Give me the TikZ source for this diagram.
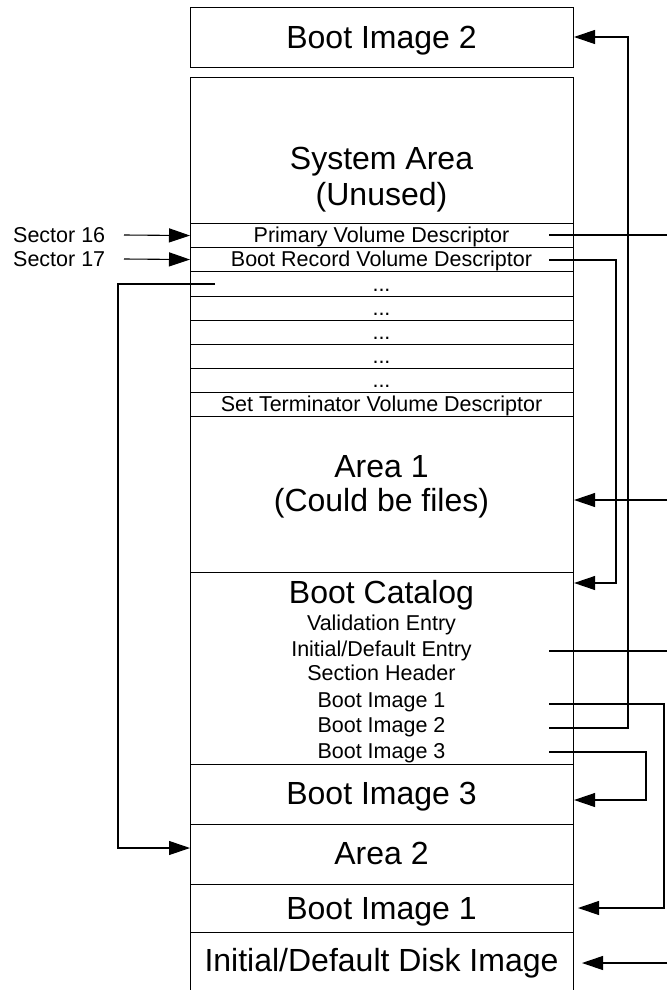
\documentclass[tikz,border=0pt]{standalone}
\usepackage{fontspec}
\setmainfont{Liberation Sans}
\usetikzlibrary{arrows.meta}
\begin{document}
\begin{tikzpicture}[x=1pt,y=-1pt,
  box/.style={draw=black, line width=1.1pt, rectangle, inner sep=0pt, minimum width=383pt, anchor=north west},
  big/.style={font=\fontsize{32}{35}\selectfont, text height=23pt, text depth=0pt, inner sep=0pt},
  small/.style={font=\fontsize{21.5}{24}\selectfont, text height=15.4pt, text depth=0pt, inner sep=0pt},
  wire/.style={line width=1.1pt, draw=black},
  arr/.style={wire, -{Triangle[length=21pt,width=14pt]}}]
\useasboundingbox (0,0) rectangle (667,990);
% boxes
\node[box, minimum height=60pt]  (bi2)   at (190,7)   {};
\node[box, minimum height=146pt] (sys)   at (190,77)  {};
\node[box, minimum height=24pt]  (pvd)   at (190,223) {};
\node[box, minimum height=24pt]  (brvd)  at (190,247) {};
\node[box, minimum height=25pt]  (d1)    at (190,271) {};
\node[box, minimum height=24pt]  (d2)    at (190,296) {};
\node[box, minimum height=24pt]  (d3)    at (190,320) {};
\node[box, minimum height=24pt]  (d4)    at (190,344) {};
\node[box, minimum height=24pt]  (d5)    at (190,368) {};
\node[box, minimum height=24pt]  (stvd)  at (190,392) {};
\node[box, minimum height=156pt] (area1) at (190,416) {};
\node[box, minimum height=192pt] (cat)   at (190,572) {};
\node[box, minimum height=60pt]  (bi3)   at (190,764) {};
\node[box, minimum height=60pt]  (area2) at (190,824) {};
\node[box, minimum height=48pt]  (bi1)   at (190,884) {};
\node[box, minimum height=80pt]  (disk)  at (190,932) {};
% texts
\node[big]   (tbi2)   at (381.5,37)  {Boot Image 2};
\node[big]   (tsys1)  at (381.5,158) {System Area};
\node[big]   (tsys2)  at (381.5,194) {(Unused)};
\node[small] (tpvd)   at (381.5,235) {Primary Volume Descriptor};
\node[small] (tbrvd)  at (381.5,259) {Boot Record Volume Descriptor};
\node[small] (td1)    at (381.5,283.5) {...};
\node[small] (td2)    at (381.5,308) {...};
\node[small] (td3)    at (381.5,332) {...};
\node[small] (td4)    at (381.5,356) {...};
\node[small] (td5)    at (381.5,380) {...};
\node[small] (tstvd)  at (381.5,404) {Set Terminator Volume Descriptor};
\node[big]   (ta11)   at (381.5,466) {Area 1};
\node[big]   (ta12)   at (381.5,500) {(Could be files)};
\node[big]   (tcat)   at (381.5,592) {Boot Catalog};
\node[small] (tval)   at (381.5,623) {Validation Entry};
\node[small] (tide)   at (381.5,649) {Initial/Default Entry};
\node[small] (tsec)   at (381.5,673) {Section Header};
\node[small] (tcb1)   at (381.5,700) {Boot Image 1};
\node[small] (tcb2)   at (381.5,725) {Boot Image 2};
\node[small] (tcb3)   at (381.5,751) {Boot Image 3};
\node[big]   (tbi3)   at (381.5,793) {Boot Image 3};
\node[big]   (ta2)    at (381.5,853) {Area 2};
\node[big]   (tbi1)   at (381.5,908) {Boot Image 1};
\node[big]   (tdisk)  at (381.5,960) {Initial/Default Disk Image};
\node[small, anchor=west] (s16) at (13,235) {Sector 16};
\node[small, anchor=west] (s17) at (13,259) {Sector 17};
% connector points
\coordinate (s16a) at (124,235);
\coordinate (s17a) at (124,259);
\coordinate (pvdR) at (549,235);
\coordinate (pvdO) at (667,235);
\coordinate (brvdR) at (549,260);
\coordinate (brvdK) at (616,583);
\coordinate (a1In) at (667,500);
\coordinate (ideR) at (549,651);
\coordinate (ideO) at (667,651);
\coordinate (cb1R) at (549,704);
\coordinate (cb1K) at (664,908);
\coordinate (cb1T) at (578,908);
\coordinate (cb2R) at (549,728);
\coordinate (cb2K) at (628,37);
\coordinate (cb2T) at (574,37);
\coordinate (cb3R) at (549,752);
\coordinate (cb3K) at (646,800);
\coordinate (dkIn) at (667,963);
\coordinate (dkT)  at (582,963);
\coordinate (d1L)  at (215,284);
\coordinate (d1K)  at (118,848);
% connectors
\draw[arr] (s16a) -- (pvd.west);
\draw[arr] (s17a) -- (brvd.west);
\draw[wire] (pvdR) -- (pvdO);
\draw[arr] (brvdR) -| (brvdK) -- (brvdK -| cat.east);
\draw[arr] (a1In) -- (a1In -| area1.east);
\draw[wire] (ideR) -- (ideO);
\draw[arr] (cb1R) -| (cb1K) -- (cb1T);
\draw[arr] (cb2R) -| (cb2K) -- (cb2T);
\draw[arr] (cb3R) -| (cb3K) -- (cb3K -| bi3.east);
\draw[arr] (dkIn) -- (dkT);
\draw[arr] (d1L) -| (d1K) -- (d1K -| area2.west);
\end{tikzpicture}
\end{document}
